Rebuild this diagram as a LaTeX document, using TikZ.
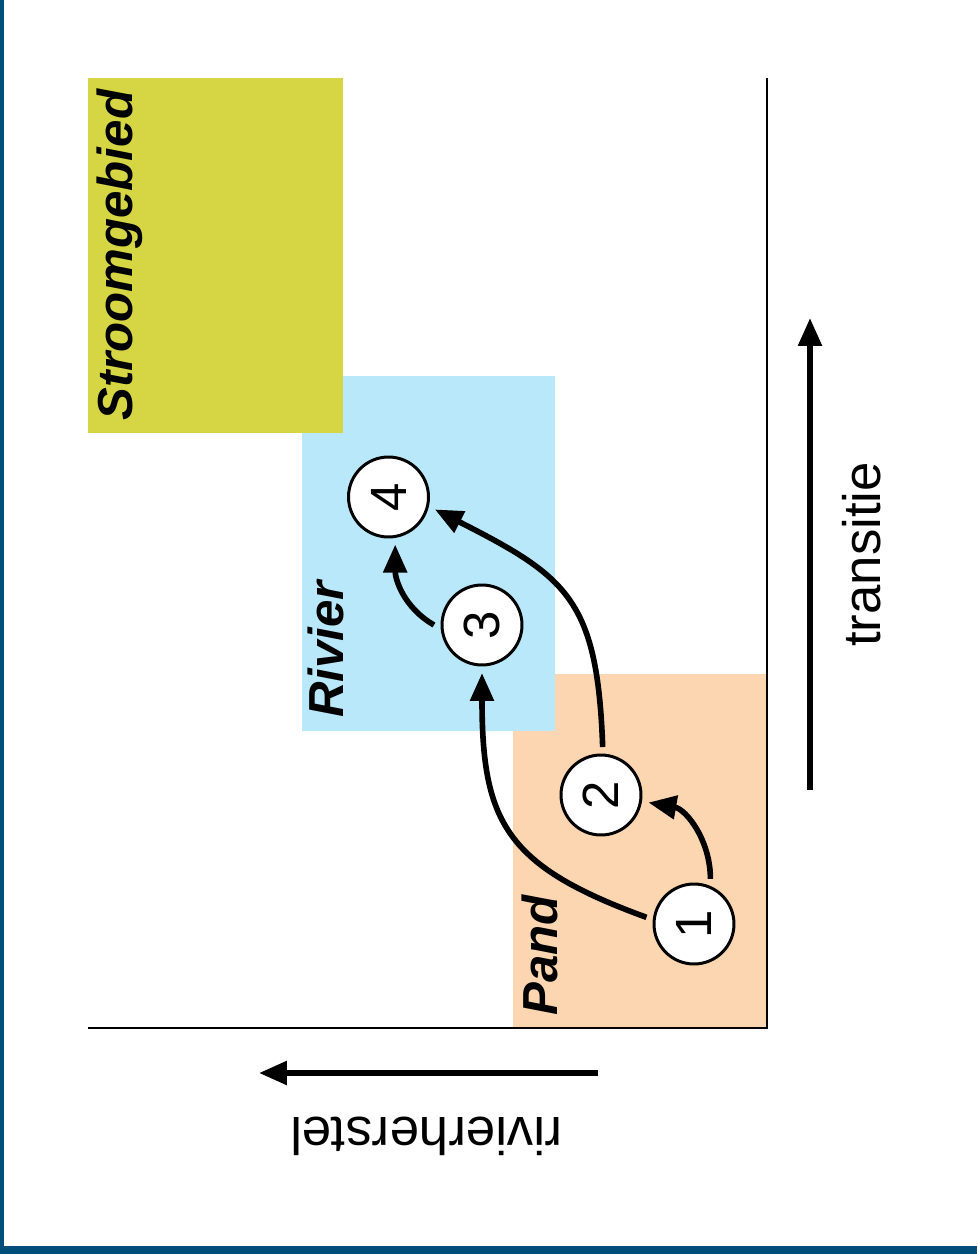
\documentclass[tikz,border=0pt]{standalone}
\usepackage{fontspec}
\setmainfont{Liberation Sans}
\usepackage{graphicx}
\usepackage{tikz}
\usepackage{xcolor}
\usetikzlibrary{arrows.meta}
\usetikzlibrary{positioning}
\definecolor{stroomgeel}{RGB}{214,214,69}
\definecolor{rivierblauw}{RGB}{184,232,250}
\definecolor{pandoranje}{RGB}{251,214,176}
\definecolor{randblauw}{RGB}{0,79,122}
\tikzstyle{zone} = [rectangle, inner sep=0pt, draw=none]
\tikzstyle{zonelabel} = [inner sep=0pt, rotate=90, anchor=base west, font=\fontsize{28}{34}\selectfont\bfseries\itshape]
\tikzstyle{stap} = [circle, draw=black, line width=1.7pt, fill=white, minimum size=1.6cm, inner sep=0pt, outer sep=0.16cm, font=\fontsize{29}{34}\selectfont]
\tikzstyle{axislabel} = [inner sep=0pt, anchor=base west, font=\fontsize{30}{36}\selectfont]
\tikzstyle{arrow} = [line width=3.2pt, -{Triangle[length=0.56cm,width=0.46cm]}]
\tikzstyle{axis} = [line width=1.5pt]

\begin{document}
\begin{tikzpicture}[x=0.02cm, y=-0.02cm]
        \useasboundingbox (0,0) rectangle (977,1254);
        \fill [white] (0,0) rectangle (977,1254);
        \fill [randblauw] (0,0) rectangle (4,1254);
        \fill [randblauw] (0,1246) rectangle (977,1254);

        % schaalniveaus
        \node (pand) [zone, fill=pandoranje, minimum width=5.08cm, minimum height=7.08cm] at (640,851) {};
        \node (rivier) [zone, fill=rivierblauw, minimum width=5.06cm, minimum height=7.1cm] at (428.5,553.5) {};
        \node (stroomgebied) [zone, fill=stroomgeel, minimum width=5.1cm, minimum height=7.1cm] at (215.5,255.5) {};

        \node (stroomlabel) [zonelabel] at (132,421) {Stroomgebied};
        \node (rivierlabel) [zonelabel] at (343,718) {Rivier};
        \node (pandlabel) [zonelabel] at (557,1016) {Pand};

        \coordinate (origin) at (767,1028);
        \coordinate (ytop) at (767,78);
        \coordinate (xleft) at (88,1028);
        \draw [axis] (ytop) -- (origin) -- (xleft);

        % stappen
        \node (n1) [stap] at (694,924) {\rotatebox{90}{1}};
        \node (n2) [stap] at (601,795) {\rotatebox{90}{2}};
        \node (n3) [stap] at (482,625) {\rotatebox{90}{3}};
        \node (n4) [stap] at (388.5,497) {\rotatebox{90}{4}};

        \draw [arrow] (n1.70) to[out=90, in=-10] (n2.-9);
        \draw [arrow] (n1.172) to[out=160, in=-90, looseness=1.3] (n3.-90);
        \draw [arrow] (n2.88) to[out=92, in=-27, looseness=1.3] (n4.-15);
        \draw [arrow] (n3.180) to[out=150, in=-90] (n4.-82);

        % assen
        \coordinate (tstart) at (810,790);
        \coordinate (tend) at (810,318);
        \draw [arrow] (tstart) -- (tend);
        \node (transitie) [axislabel, rotate=90] at (880,647) {transitie};

        \coordinate (rstart) at (598,1073);
        \coordinate (rend) at (259,1073);
        \draw [arrow] (rstart) -- (rend);
        \node (rivierherstel) [axislabel, rotate=180] at (563,1117) {rivierherstel};
    \end{tikzpicture}
\end{document}
